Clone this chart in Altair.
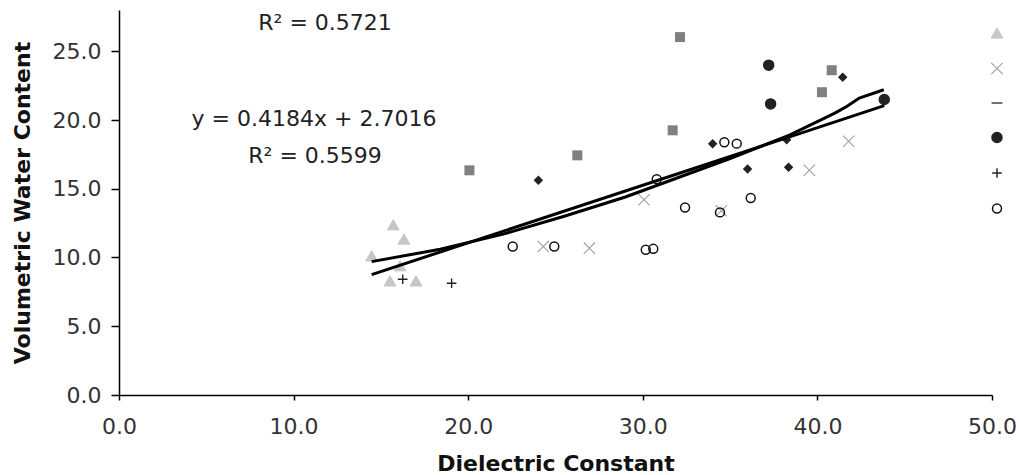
import altair as alt
import pandas as pd

# ---- data ----
LEGEND_SERIES = ["Set 1", "Set 2", "Set 3", "Set 4", "Set 5", "Set 6"]

# Set 1: light grey triangles
S1_X = [15.71, 16.32, 14.47, 15.52, 17.01, 16.10]
S1_Y = [12.38, 11.34, 10.12, 8.30, 8.30, 9.40]
# Set 2: grey x marks
S2_X = [24.30, 26.94, 30.07, 34.50, 39.54, 41.79]
S2_Y = [10.80, 10.68, 14.20, 13.40, 16.34, 18.45]
# Set 3: dash (no visible points)
S3_X = []
S3_Y = []
# Set 4: large dark filled markers
S4_X = [37.21, 37.32, 43.83]
S4_Y = [23.99, 21.17, 21.49]
# Set 5: plus marks
S5_X = [16.25, 19.05]
S5_Y = [8.42, 8.13]
# Set 6: open circles
S6_X = [22.55, 24.93, 30.17, 30.60, 30.80, 32.42, 34.42, 34.67, 35.38, 36.18]
S6_Y = [10.80, 10.80, 10.56, 10.63, 15.70, 13.64, 13.28, 18.38, 18.28, 14.33]
# Set 7: grey squares
S7_X = [20.07, 26.25, 31.71, 32.13, 40.26, 40.82]
S7_Y = [16.34, 17.43, 19.25, 26.03, 22.02, 23.62]
# Set 8: small dark diamonds
S8_X = [24.02, 34.00, 36.00, 38.35, 38.24, 41.45]
S8_Y = [15.61, 18.28, 16.44, 16.56, 18.57, 23.11]

# linear trend (from the equation shown on the chart)
SLOPE = 0.4184
INTERCEPT = 2.7016
LIN_X = [14.47, 43.83]

# second trend line
POLY_X = [14.47, 18.4, 22.0, 25.5, 29.0, 32.0, 35.0, 38.4, 41.0, 41.7, 42.4, 43.8]
POLY_Y = [9.70, 10.60, 11.70, 13.00, 14.40, 15.80, 17.20, 18.90, 20.50, 21.00, 21.60, 22.20]

ANN_TEXT = ["R² = 0.5721", "y = 0.4184x + 2.7016", "R² = 0.5599"]
ANN_X = [11.8, 11.17, 11.23]
ANN_Y = [27.05, 20.07, 17.38]

X_TICKS = [0, 10, 20, 30, 40, 50]
Y_TICKS = [0, 5, 10, 15, 20, 25]

# ---- build tables ----
xs = [S1_X, S2_X, S3_X, S4_X, S5_X, S6_X]
ys = [S1_Y, S2_Y, S3_Y, S4_Y, S5_Y, S6_Y]
rows = []
for name, sx, sy in zip(LEGEND_SERIES, xs, ys):
    for a, b in zip(sx, sy):
        rows.append({"series": name, "x": a, "y": b})
pts = pd.DataFrame(rows)
squares = pd.DataFrame({"x": S7_X, "y": S7_Y})
diamonds = pd.DataFrame({"x": S8_X, "y": S8_Y})

lin = pd.DataFrame({"x": LIN_X, "y": [SLOPE * v + INTERCEPT for v in LIN_X]})
poly = pd.DataFrame({"x": POLY_X, "y": POLY_Y})
ann = pd.DataFrame({"x": ANN_X, "y": ANN_Y, "t": ANN_TEXT})

X_PATH = "M-1,-1L1,1M-1,1L1,-1"
PLUS_PATH = "M-1,0L1,0M0,-1L0,1"
DASH_PATH = "M-1,0L1,0"

shape_range = ["triangle-up", X_PATH, DASH_PATH, "circle", PLUS_PATH, "circle"]
fill_range = ["#c6c6c6", "transparent", "transparent", "#222222", "transparent", "transparent"]
stroke_range = ["#c6c6c6", "#a0a0a0", "#111111", "#222222", "#222222", "#111111"]
size_range = [140, 80, 120, 130, 70, 85]
sw_range = [1, 1.5, 3.5, 1, 1.5, 1.5]

xscale = alt.Scale(domain=[0, 50], nice=False, zero=False)
yscale = alt.Scale(domain=[0, 28], nice=False, zero=False)

xaxis = alt.Axis(values=X_TICKS, format=".1f", title="Dielectric Constant",
                 tickSize=5, labelPadding=16, labelFlush=False,
                 titleBaseline="alphabetic", titleY=75)
yaxis = alt.Axis(values=Y_TICKS, format=".1f", title="Volumetric Water Content",
                 tickSize=8, labelPadding=10, labelFlush=False, titleX=-97, titleY=192.5,
                 titleBaseline="middle", titleAlign="center", titleAngle=270)

legend = alt.Legend(orient="none", legendX=871, legendY=16, title=None,
                    labelExpr="''", labelFontSize=14, padding=0, rowPadding=19.5)

points = alt.Chart(pts).mark_point(opacity=1).encode(
    x=alt.X("x:Q", scale=xscale, axis=xaxis),
    y=alt.Y("y:Q", scale=yscale, axis=yaxis),
    shape=alt.Shape("series:N", scale=alt.Scale(domain=LEGEND_SERIES, range=shape_range), legend=legend),
    fill=alt.Fill("series:N", scale=alt.Scale(domain=LEGEND_SERIES, range=fill_range), legend=legend),
    stroke=alt.Stroke("series:N", scale=alt.Scale(domain=LEGEND_SERIES, range=stroke_range), legend=legend),
    size=alt.Size("series:N", scale=alt.Scale(domain=LEGEND_SERIES, range=size_range), legend=legend),
    strokeWidth=alt.StrokeWidth("series:N", scale=alt.Scale(domain=LEGEND_SERIES, range=sw_range), legend=legend),
)

sq = alt.Chart(squares).mark_point(shape="square", filled=True, size=100, color="#808080", opacity=1).encode(
    x=alt.X("x:Q", scale=xscale), y=alt.Y("y:Q", scale=yscale))
dm = alt.Chart(diamonds).mark_point(shape="diamond", filled=True, size=90, color="#222222", opacity=1).encode(
    x=alt.X("x:Q", scale=xscale), y=alt.Y("y:Q", scale=yscale))

lin_line = alt.Chart(lin).mark_line(color="#000000", strokeWidth=3).encode(
    x=alt.X("x:Q", scale=xscale), y=alt.Y("y:Q", scale=yscale))
poly_line = alt.Chart(poly).mark_line(color="#000000", strokeWidth=3).encode(
    x=alt.X("x:Q", scale=xscale), y=alt.Y("y:Q", scale=yscale))

texts = alt.Chart(ann).mark_text(font="DejaVu Sans", fontSize=22, color="#222222",
                                 align="center", baseline="middle").encode(
    x=alt.X("x:Q", scale=xscale), y=alt.Y("y:Q", scale=yscale), text="t:N")

chart = alt.layer(points, sq, dm, lin_line, poly_line, texts).properties(
    width=873, height=385,
    autosize=alt.AutoSizeParams(type="none"),
    padding={"left": 119, "top": 10, "right": 27, "bottom": 80},
    background="white",
).configure_view(stroke=None).configure_axis(
    grid=False,
    domainColor="#000000", domainWidth=1.5,
    tickColor="#000000", tickWidth=1.5,
    labelFont="DejaVu Sans", labelFontSize=22, labelColor="#333333",
    titleFont="DejaVu Sans", titleFontSize=22, titleFontWeight="bold", titleColor="#111111",
)

chart.save("out.html", embed_options={"renderer": "svg", "actions": False})
